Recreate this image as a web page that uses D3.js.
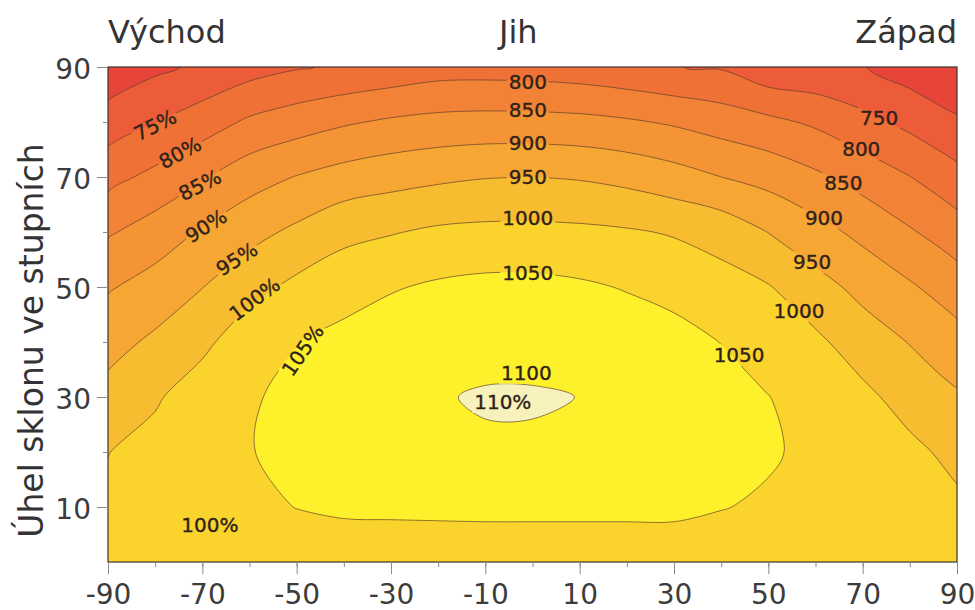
<!DOCTYPE html>
<html>
<head>
<meta charset="utf-8">
<script src="https://cdn.jsdelivr.net/npm/d3@7"></script>
<style>
    body { margin: 0; background: #fff; }
    text { font-family: "DejaVu Sans", sans-serif; }
</style>
</head>
<body>
<div id="slope-irradiance"></div>
<script>
'use strict';

// azimuth of the surface (0 = south, - east, + west) and its tilt, both in degrees
var azimuths = [-90, -80, -70, -60, -50, -40, -30, -20, -10, 0, 10, 20, 30, 40, 50, 60, 70, 80, 90];
var tilts = [0, 10, 20, 30, 40, 50, 60, 70, 80, 90];

// yearly irradiation in kWh/m2, one row per tilt
var tilt0  = [1020, 1020, 1020, 1020, 1020, 1020, 1020, 1020, 1020, 1020, 1020, 1020, 1020, 1020, 1020, 1020, 1020, 1020, 1020];
var tilt10 = [1009, 1022, 1031, 1038, 1051, 1058, 1059, 1060, 1061, 1061, 1061, 1061, 1061, 1052, 1043, 1034, 1027, 1018, 1010];
var tilt20 = [999, 1017, 1035, 1048, 1064, 1076, 1082, 1087, 1094, 1094, 1090, 1087, 1083, 1070, 1056, 1038, 1022, 1012, 986];
var tilt30 = [966, 994, 1027, 1045, 1062, 1080, 1090, 1097, 1104, 1104, 1099.5, 1093, 1087, 1070, 1051, 1030, 1012, 980, 956];
var tilt40 = [933, 959, 988, 1031, 1049, 1066, 1078, 1084, 1085, 1085, 1083, 1077, 1068, 1049, 1026, 1010, 975, 948, 919];
var tilt50 = [895, 920, 949, 983, 1012, 1028, 1046, 1057, 1063, 1063, 1057, 1047, 1034, 1018, 1003, 968, 936, 906, 874];
var tilt60 = [844, 873, 905, 934, 960, 988, 997, 1008, 1012, 1012, 1010, 1005, 996, 982, 949, 918, 887, 855, 823];
var tilt70 = [784, 813, 845, 880, 902, 920, 932, 941, 948, 950, 946, 936, 920, 900, 883, 859, 831, 801, 766];
var tilt80 = [723, 749, 776, 808, 827, 844, 857, 865, 868, 867, 864, 856, 844, 828, 812, 792, 764, 737, 708];
var tilt90 = [665, 690, 708, 730, 746, 756, 766, 778, 779, 777, 772, 762, 751, 746, 714, 710, 702, 676, 650];

var levels = [700, 750, 800, 850, 900, 950, 1000, 1050, 1100];
var bandColors = ['#e8453a', '#ec5c38', '#ef7136', '#f28235', '#f49434', '#f6a733',
    '#f8bc30', '#fad42c', '#fef12c', '#f7f2bc'];

var xTicks = [-90, -70, -50, -30, -10, 10, 30, 50, 70, 90];
var yTicks = [10, 30, 50, 70, 90];
var yTitle = 'Úhel sklonu ve stupních';
var compass = [['Východ', -90], ['Jih', -3], ['Západ', 90]];

// contour labels: [azimuth, tilt, text, rotation]
var centerLabels = [[-1, 87.3, '800'], [-1, 82.2, '850'], [-1, 76.2, '900'], [-1, 70, '950'],
    [-1, 62.5, '1000'], [-1, 52.5, '1050'], [-1.3, 34.4, '1100'], [-6.3, 29.1, '110%']];
var westLabels = [[73.5, 80.7, '750'], [69.7, 75.1, '800'], [65.9, 68.9, '850'], [61.8, 62.5, '900'],
    [59.3, 54.5, '950'], [56.5, 45.6, '1000'], [43.8, 37.6, '1050']];
var eastLabels = [[-80, 79.4, '75%', -27], [-74.7, 74.4, '80%', -28], [-70.5, 68.5, '85%', -27],
    [-69.2, 61.1, '90%', -32], [-62.7, 55.1, '95%', -32], [-58.9, 47.8, '100%', -37],
    [-48.7, 38.5, '105%', -55], [-68.4, 6.7, '100%', 0]];

var moduleSlopeIrradiance = (function() {

    var init = function() {
        var width = 975,
            height = 610;
        var margin = {top: 67, right: 18, bottom: 48, left: 108};

        var x = d3.scaleLinear().domain([-90, 90]).range([margin.left, width - margin.right]);
        var y = d3.scaleLinear().domain([0, 90]).range([height - margin.bottom, margin.top]);

        var svg = d3.select('#slope-irradiance').append('svg')
            .attr('width', width)
            .attr('height', height);

        var defs = svg.append('defs');
        defs.append('clipPath').attr('id', 'plot-clip')
            .append('rect')
            .attr('x', x(-90)).attr('y', y(90))
            .attr('width', x(90) - x(-90)).attr('height', y(0) - y(90));

        // contour grid: sample i sits at grid coordinate i + 0.5
        var n = azimuths.length,
            m = tilts.length;
        var gx = d3.scaleLinear().domain([0.5, n - 0.5]).range([azimuths[0], azimuths[n - 1]]);
        var gy = d3.scaleLinear().domain([0.5, m - 0.5]).range([tilts[0], tilts[m - 1]]);

        var values = [].concat(tilt0, tilt10, tilt20, tilt30, tilt40, tilt50, tilt60, tilt70, tilt80, tilt90);
        var contours = d3.contours().size([n, m]).thresholds(levels)(values);

        var line = d3.line().curve(d3.curveCatmullRomClosed.alpha(0.5));
        var contourPath = function(c) {
            return c.coordinates.map(function(polygon) {
                return polygon.map(function(ring) {
                    var pts = [];
                    ring.slice(0, -1).forEach(function(p) {
                        var q = [x(gx(p[0])), y(gy(p[1]))];
                        var last = pts[pts.length - 1];
                        if (!last || Math.abs(last[0] - q[0]) > 0.01 || Math.abs(last[1] - q[1]) > 0.01) pts.push(q);
                    });
                    return pts.length > 2 ? line(pts) : '';
                }).join('');
            }).join('');
        };

        var plot = svg.append('g').attr('clip-path', 'url(#plot-clip)');

        plot.append('rect')
            .attr('x', x(-90)).attr('y', y(90))
            .attr('width', x(90) - x(-90)).attr('height', y(0) - y(90))
            .attr('fill', bandColors[0]);

        plot.selectAll('path.band')
            .data(contours)
            .enter().append('path')
            .attr('class', 'band')
            .attr('d', contourPath)
            .attr('fill', function(d, i) { return bandColors[i + 1]; });

        var mask = defs.append('mask').attr('id', 'label-mask')
            .attr('maskUnits', 'userSpaceOnUse')
            .attr('x', 0).attr('y', 0).attr('width', width).attr('height', height);
        mask.append('rect').attr('width', width).attr('height', height).attr('fill', 'white');

        plot.append('g')
            .attr('mask', 'url(#label-mask)')
            .selectAll('path')
            .data(contours)
            .enter().append('path')
            .attr('d', contourPath)
            .attr('fill', 'none')
            .attr('stroke', '#5e3e2a')
            .attr('stroke-width', 0.8)
            .attr('stroke-opacity', 0.85);

        // labels on the contours
        var labelData = centerLabels.concat(westLabels).concat(eastLabels);
        var labels = svg.append('g')
            .selectAll('text')
            .data(labelData)
            .enter().append('text')
            .attr('transform', function(d) {
                return 'translate(' + x(d[0]) + ',' + y(d[1]) + ') rotate(' + (d[3] || 0) + ')';
            })
            .attr('text-anchor', 'middle')
            .attr('dominant-baseline', 'central')
            .attr('font-size', 20)
            .attr('fill', '#2e2219')
            .attr('stroke', '#2e2219')
            .attr('stroke-width', 0.35)
            .text(function(d) { return d[2]; });

        labels.each(function(d) {
            var b = this.getBBox();
            mask.append('rect')
                .attr('transform', d3.select(this).attr('transform'))
                .attr('x', b.x - 2).attr('y', b.y + 1)
                .attr('width', b.width + 4).attr('height', b.height - 2)
                .attr('fill', 'black');
        });

        // frame
        svg.append('rect')
            .attr('x', x(-90)).attr('y', y(90))
            .attr('width', x(90) - x(-90)).attr('height', y(0) - y(90))
            .attr('fill', 'none')
            .attr('stroke', '#3a3330')
            .attr('stroke-width', 1.2);

        // axes
        var styleAxis = function(g) {
            g.select('.domain').remove();
            g.selectAll('.tick line').attr('stroke', '#8a8a8a');
            g.selectAll('.tick text')
                .attr('font-size', 28)
                .attr('fill', '#3c3c3c')
                .style('font-family', '"DejaVu Sans", sans-serif');
        };
        var plain = function(d) { return String(d); };

        svg.append('g')
            .attr('transform', 'translate(0,' + y(0) + ')')
            .call(d3.axisBottom(x).tickValues(azimuths).tickSize(5).tickFormat(''))
            .call(styleAxis);
        svg.append('g')
            .attr('transform', 'translate(0,' + y(0) + ')')
            .call(d3.axisBottom(x).tickValues(xTicks).tickSize(12).tickPadding(10).tickFormat(plain))
            .call(styleAxis);

        svg.append('g')
            .attr('transform', 'translate(' + x(-90) + ',0)')
            .call(d3.axisLeft(y).tickValues(tilts.slice(1)).tickSize(5).tickFormat(''))
            .call(styleAxis);
        svg.append('g')
            .attr('transform', 'translate(' + x(-90) + ',0)')
            .call(d3.axisLeft(y).tickValues(yTicks).tickSize(11).tickPadding(6).tickFormat(plain))
            .call(styleAxis)
            .selectAll('.tick text').attr('dy', '0.4em');

        // compass directions above the plot
        svg.append('g')
            .selectAll('text')
            .data(compass)
            .enter().append('text')
            .attr('x', function(d) { return x(d[1]); })
            .attr('y', 43)
            .attr('text-anchor', function(d, i) {
                return i === 0 ? 'start' : (i === compass.length - 1 ? 'end' : 'middle');
            })
            .attr('font-size', 32)
            .attr('fill', '#333')
            .text(function(d) { return d[0]; });

        svg.append('text')
            .attr('transform', 'translate(43,' + (y(45) + 26) + ') rotate(-90)')
            .attr('text-anchor', 'middle')
            .attr('font-size', 33)
            .attr('fill', '#333')
            .text(yTitle);
    };

    return {
        init: init
    };
})();

moduleSlopeIrradiance.init();
</script>
</body>
</html>
